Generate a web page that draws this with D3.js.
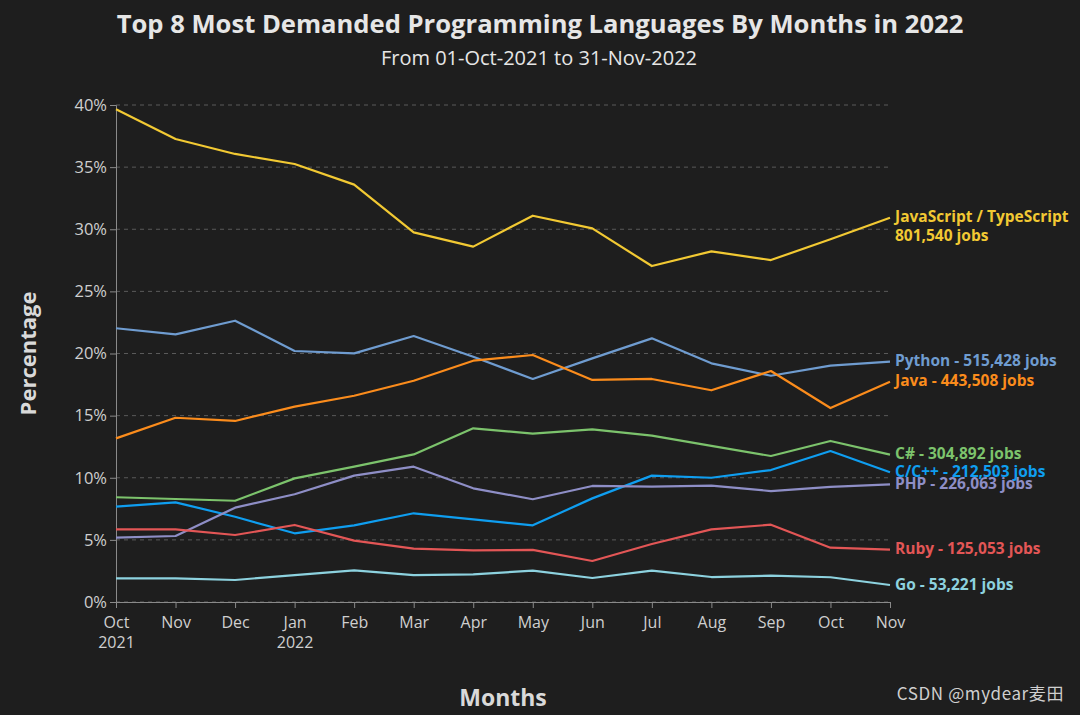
<!DOCTYPE html>
<html>
<head>
<meta charset="utf-8">
<script src="https://cdn.jsdelivr.net/npm/d3@7"></script>
<style>
    body { margin: 0; background: #1e1e1e; }
    svg { display: block; font-family: "Open Sans", "Noto Sans", sans-serif; }
</style>
</head>
<body>
<svg></svg>
<script>
const months = ['Oct', 'Nov', 'Dec', 'Jan', 'Feb', 'Mar', 'Apr', 'May', 'Jun', 'Jul', 'Aug', 'Sep', 'Oct', 'Nov'];
const yearLabels = { 0: '2021', 3: '2022' };
const yTicks = [0, 5, 10, 15, 20, 25, 30, 35, 40];

const languages = ['JavaScript / TypeScript', 'Python', 'Java', 'C#', 'C/C++', 'PHP', 'Ruby', 'Go'];
const jobs = ['801,540', '515,428', '443,508', '304,892', '212,503', '226,063', '125,053', '53,221'];
const colors = ['#f2c933', '#6f9cd0', '#fb8c1c', '#7cc36c', '#0f9ef0', '#8e8ec6', '#e35656', '#8dd2df'];

const jsTs = [39.65, 37.26, 36.06, 35.25, 33.59, 29.75, 28.6, 31.09, 30.07, 27.04, 28.22, 27.52, 29.2, 30.93];
const python = [22.03, 21.54, 22.64, 20.2, 20.01, 21.41, 19.74, 17.95, 19.61, 21.22, 19.21, 18.21, 19.02, 19.34];
const java = [13.17, 14.83, 14.57, 15.72, 16.6, 17.81, 19.42, 19.88, 17.87, 17.95, 17.04, 18.59, 15.61, 17.73];
const csharp = [8.43, 8.29, 8.15, 9.95, 10.89, 11.88, 13.98, 13.55, 13.9, 13.39, 12.56, 11.75, 12.96, 11.86];
const cpp = [7.67, 8.02, 6.86, 5.53, 6.17, 7.14, 6.65, 6.17, 8.34, 10.17, 10.0, 10.62, 12.15, 10.44];
const php = [5.18, 5.31, 7.59, 8.67, 10.17, 10.89, 9.15, 8.27, 9.34, 9.28, 9.36, 8.93, 9.26, 9.47];
const ruby = [5.85, 5.85, 5.39, 6.2, 4.94, 4.29, 4.16, 4.19, 3.3, 4.67, 5.85, 6.22, 4.37, 4.21];
const go = [1.9, 1.9, 1.77, 2.17, 2.55, 2.17, 2.23, 2.52, 1.93, 2.52, 2.01, 2.12, 1.99, 1.37];

const seriesValues = [jsTs, python, java, csharp, cpp, php, ruby, go];

const width = 1080, height = 715;
const margin = { top: 105, right: 190, bottom: 113, left: 116 };

const svg = d3.select('svg')
    .attr('width', width)
    .attr('height', height);

svg.append('rect')
    .attr('width', width)
    .attr('height', height)
    .attr('fill', '#1e1e1e');

const x = d3.scalePoint()
    .domain(d3.range(months.length))
    .range([margin.left, width - margin.right]);

const y = d3.scaleLinear()
    .domain([0, 40])
    .range([height - margin.bottom, margin.top]);

// grid
svg.append('g')
    .selectAll('line')
    .data(yTicks)
    .join('line')
    .attr('x1', margin.left)
    .attr('x2', width - margin.right)
    .attr('y1', d => y(d))
    .attr('y2', d => y(d))
    .attr('stroke', '#5a5a5a')
    .attr('stroke-width', 1)
    .attr('stroke-dasharray', '4,4');

// y axis
const yAxis = svg.append('g')
    .attr('transform', `translate(${margin.left},0)`)
    .call(d3.axisLeft(y).tickValues(yTicks).tickFormat(d => d + '%').tickSizeOuter(0).tickSize(6));
yAxis.select('.domain').attr('stroke', '#8a8a8a');
yAxis.selectAll('.tick line').attr('stroke', '#8a8a8a');
yAxis.selectAll('.tick text')
    .attr('fill', '#cfcfcf')
    .attr('font-size', 16.5)
    .attr('font-family', '"Open Sans", sans-serif')
    .attr('x', -9);

// x axis
const xAxis = svg.append('g')
    .attr('transform', `translate(0,${height - margin.bottom})`)
    .call(d3.axisBottom(x).tickFormat(i => months[i]).tickSizeOuter(0).tickSize(6));
xAxis.select('.domain').attr('stroke', '#8a8a8a');
xAxis.selectAll('.tick line').attr('stroke', '#8a8a8a');
xAxis.selectAll('.tick text')
    .attr('fill', '#cfcfcf')
    .attr('font-size', 16)
    .attr('font-family', '"Open Sans", sans-serif')
    .attr('y', 15)
    .each(function (i) {
        if (yearLabels[i]) {
            d3.select(this).append('tspan')
                .attr('x', 0)
                .attr('dy', '1.22em')
                .text(yearLabels[i]);
        }
    });

// lines
const line = d3.line()
    .x((d, i) => x(i))
    .y(d => y(d));

svg.append('g')
    .selectAll('path')
    .data(seriesValues)
    .join('path')
    .attr('d', d => line(d))
    .attr('fill', 'none')
    .attr('stroke', (d, i) => colors[i])
    .attr('stroke-width', 2.2)
    .attr('stroke-linejoin', 'round');

// end labels
const last = months.length - 1;
const labels = svg.append('g')
    .attr('font-size', 15.5)
    .attr('font-weight', 'bold');

seriesValues.forEach((vals, i) => {
    const t = labels.append('text')
        .attr('x', x(last) + 5)
        .attr('y', y(vals[last]))
        .attr('dy', '0.3em')
        .attr('fill', colors[i]);
    if (i === 0) {
        t.text(languages[i]);
        t.append('tspan')
            .attr('x', x(last) + 5)
            .attr('dy', '1.2em')
            .text(jobs[i] + ' jobs');
    } else {
        t.text(`${languages[i]} - ${jobs[i]} jobs`);
    }
});

// titles
svg.append('text')
    .attr('x', width / 2)
    .attr('y', 33)
    .attr('text-anchor', 'middle')
    .attr('fill', '#e6e6e6')
    .attr('font-size', 25.6)
    .attr('font-weight', 'bold')
    .text('Top 8 Most Demanded Programming Languages By Months in 2022');

svg.append('text')
    .attr('x', width / 2 - 1)
    .attr('y', 65)
    .attr('text-anchor', 'middle')
    .attr('fill', '#e6e6e6')
    .attr('font-size', 20)
    .text('From 01-Oct-2021 to 31-Nov-2022');

svg.append('text')
    .attr('transform', `translate(36,${(margin.top + height - margin.bottom) / 2}) rotate(-90)`)
    .attr('text-anchor', 'middle')
    .attr('fill', '#d9d9d9')
    .attr('font-size', 22)
    .attr('font-weight', 'bold')
    .text('Percentage');

svg.append('text')
    .attr('x', (margin.left + width - margin.right) / 2)
    .attr('y', 706)
    .attr('text-anchor', 'middle')
    .attr('fill', '#d9d9d9')
    .attr('font-size', 23)
    .attr('font-weight', 'bold')
    .text('Months');

svg.append('text')
    .attr('x', 1064)
    .attr('y', 700)
    .attr('text-anchor', 'end')
    .attr('fill', '#cfcfcf')
    .attr('font-size', 17)
    .attr('letter-spacing', 0.6)
    .attr('font-family', '"Noto Sans CJK SC", sans-serif')
    .text('CSDN @mydear麦田');
</script>
</body>
</html>
